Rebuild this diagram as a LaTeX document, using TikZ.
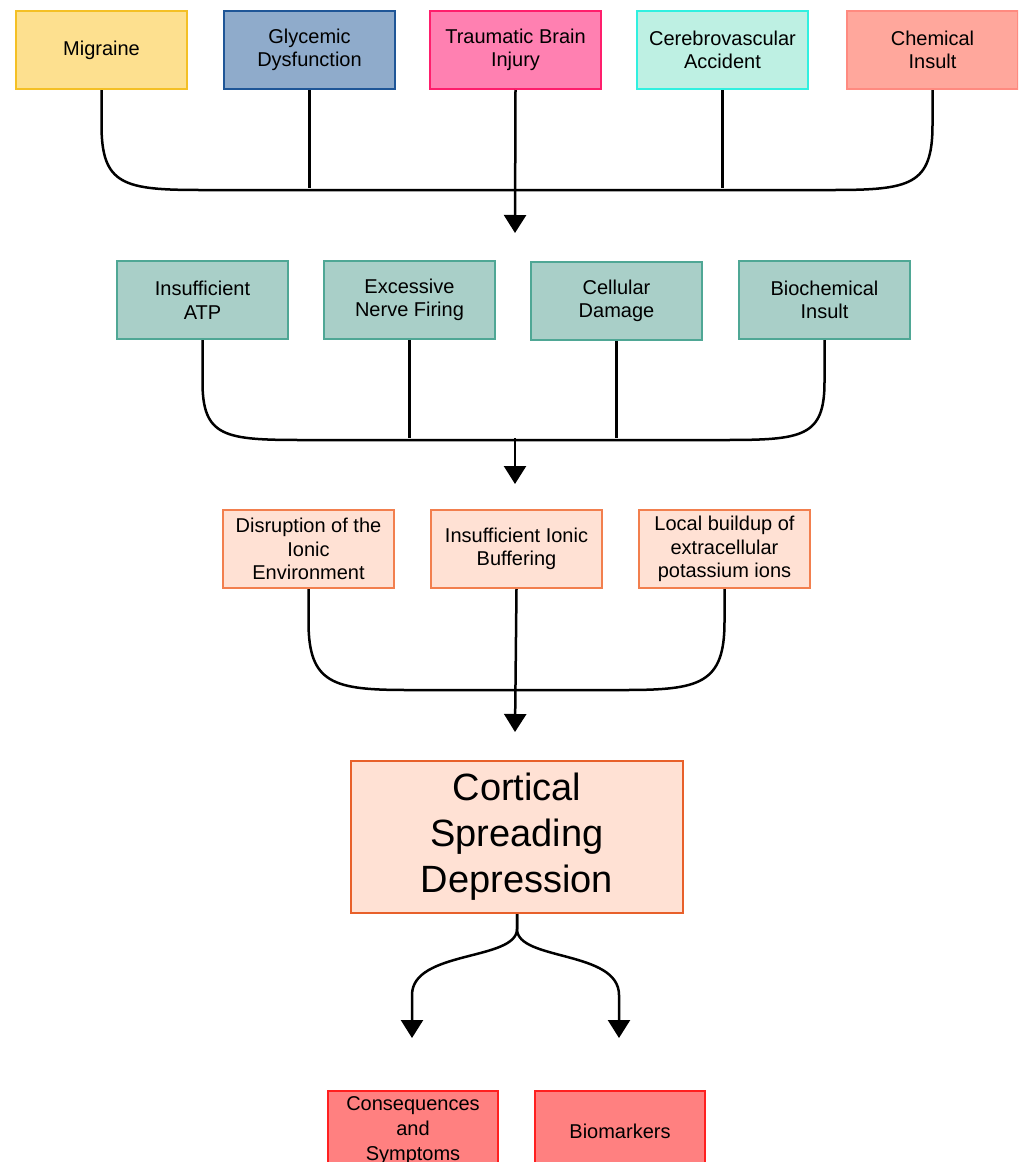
\documentclass[tikz,border=0pt]{standalone}
\usepackage{fontspec}
\setmainfont{Liberation Sans}
\usetikzlibrary{arrows.meta,calc}
\definecolor{migF}{HTML}{FDE08F}\definecolor{migD}{HTML}{F4C025}
\definecolor{glyF}{HTML}{8FABCB}\definecolor{glyD}{HTML}{1F5697}
\definecolor{tbiF}{HTML}{FF80B1}\definecolor{tbiD}{HTML}{FF1E6C}
\definecolor{cerF}{HTML}{BEF0E3}\definecolor{cerD}{HTML}{30F0E0}
\definecolor{cheF}{HTML}{FFA79C}\definecolor{cheD}{HTML}{FF8A80}
\definecolor{tealF}{HTML}{A9CFC8}\definecolor{tealD}{HTML}{4FA795}
\definecolor{peachF}{HTML}{FFE1D4}\definecolor{peachD}{HTML}{F27F4E}
\definecolor{csdD}{HTML}{E8602A}
\definecolor{redF}{HTML}{FF8080}\definecolor{redD}{HTML}{FF2020}
\begin{document}
\begin{tikzpicture}[x=1pt,y=-1pt,
  box/.style={draw, line width=2pt, minimum width=171pt, minimum height=78pt,
    align=center, inner sep=2pt, anchor=north west,
    font=\fontsize{20}{23.5}\selectfont},
  conn/.style={line width=2.5pt, line join=round},
  arr/.style={conn, -{Triangle[width=22pt,length=18pt]}}]
\useasboundingbox (0,0) rectangle (1018,1162);
\clip (0,0) rectangle (1018,1162);
\fill[white] (0,0) rectangle (1018,1162);

% top row
\node[box, fill=migF, draw=migD] (mig) at (15,10) {Migraine};
\node[box, fill=glyF, draw=glyD] (gly) at (223,10) {Glycemic\\Dysfunction};
\node[box, fill=tbiF, draw=tbiD] (tbi) at (429,10) {Traumatic Brain\\Injury};
\node[box, fill=cerF, draw=cerD] (cer) at (636,10) {Cerebrovascular\\Accident};
\node[box, fill=cheF, draw=cheD] (che) at (846,10) {Chemical\\Insult};

% second row
\node[box, fill=tealF, draw=tealD] (atp) at (116,260) {Insufficient\\ATP};
\node[box, fill=tealF, draw=tealD] (exc) at (323,260) {Excessive\\Nerve Firing};
\node[box, fill=tealF, draw=tealD] (cel) at (530,261) {Cellular\\Damage};
\node[box, fill=tealF, draw=tealD] (bio) at (738,260) {Biochemical\\Insult};

% third row
\node[box, fill=peachF, draw=peachD] (dis) at (222,509) {Disruption of the\\Ionic\\Environment};
\node[box, fill=peachF, draw=peachD] (ion) at (430,509) {Insufficient Ionic\\Buffering};
\node[box, fill=peachF, draw=peachD] (loc) at (638,509) {Local buildup of\\extracellular\\potassium ions};

% CSD
\node[box, fill=peachF, draw=csdD, minimum width=332pt, minimum height=152pt,
  font=\fontsize{38}{46}\selectfont] (csd) at (350,760) {Cortical\\Spreading\\Depression};

% bottom
\node[box, fill=redF, draw=redD, minimum width=170pt, minimum height=80pt,
  font=\fontsize{20}{25}\selectfont] (con) at (327,1090) {Consequences\\and\\Symptoms};
\node[box, fill=redF, draw=redD, minimum width=170pt, minimum height=80pt] (bmk) at (534,1090) {Biomarkers};

% junctions and arrow ends
\coordinate (j1) at (515,188);
\coordinate (a1) at (515,233);
\coordinate (j2) at (515,438);
\coordinate (a2) at (515,484);
\coordinate (a3) at (515,732);
\coordinate (s1) at (412,1038);
\coordinate (s2) at (619,1038);

% row 1 connectors
\draw[conn] (mig.south) -- ++(0,35) .. controls +(0,60) and +(-78,0) .. ++(100,65)
  -- ($(che.south)+(-100,100)$) .. controls +(78,0) and +(0,60) .. ($(che.south)+(0,35)$) -- (che.south);
\draw[conn] (gly.south) -- (gly.south |- j1);
\draw[conn] (cer.south) -- (cer.south |- j1);
\draw[arr] (tbi.south) -- (a1);

% row 2 connectors
\draw[conn] (atp.south) -- ++(0,42) .. controls +(0,55) and +(-78,0) .. ++(100,58)
  -- ($(bio.south)+(-100,100)$) .. controls +(78,0) and +(0,55) .. ($(bio.south)+(0,42)$) -- (bio.south);
\draw[conn] (exc.south) -- (exc.south |- j2);
\draw[conn] (cel.south) -- (cel.south |- j2);
\draw[arr] (j2) -- (a2);

% row 3 connectors
\draw[conn] (dis.south) -- ++(0,33) .. controls +(0,62) and +(-75,0) .. ++(100,68)
  -- ($(loc.south)+(-100,101)$) .. controls +(75,0) and +(0,62) .. ($(loc.south)+(0,33)$) -- (loc.south);
\draw[arr] (ion.south) -- (a3);

% split
\draw[arr] (csd.south) -- ++(0,15) .. controls +(0,32) and +(0,-45) .. ($(s1)+(0,-43)$) -- (s1);
\draw[arr] (csd.south) -- ++(0,15) .. controls +(0,32) and +(0,-45) .. ($(s2)+(0,-43)$) -- (s2);
\end{tikzpicture}
\end{document}
